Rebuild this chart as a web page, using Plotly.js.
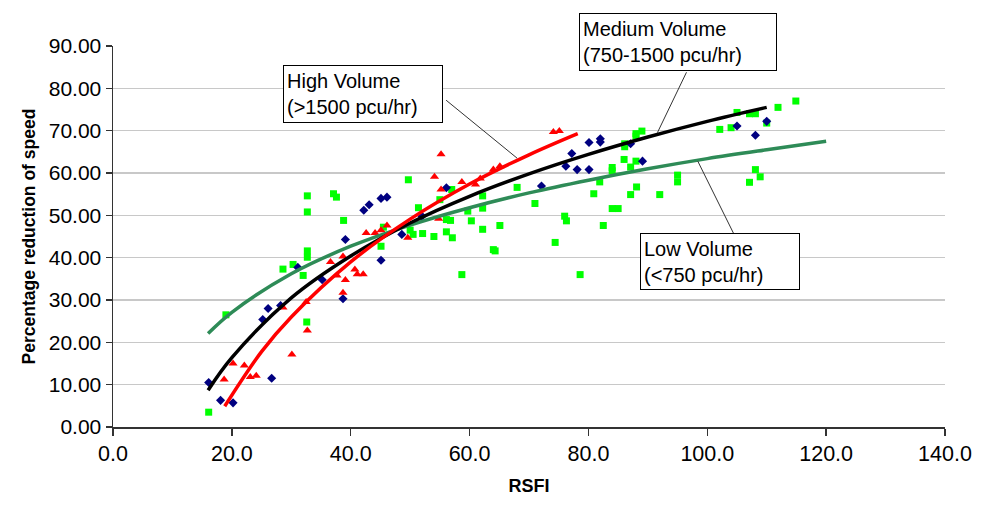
<!DOCTYPE html>
<html>
<head>
<meta charset="utf-8">
<script src="https://cdn.plot.ly/plotly-3.0.1.min.js"></script>
<style>html,body{margin:0;padding:0;background:#fff;}#chart{width:986px;height:505px;}</style>
</head>
<body>
<div id="chart"></div>
<script>
// Low volume (<750 pcu/hr) observations
const lowX = [16.1,19.0,32.6,32.7,32.7,32.7,32.7,30.3,28.6,32.0,
  37.1,37.6,38.8,49.7,45.5,45.1,51.4,50.0,50.5,52.1,54.0,56.1,57.1,56.1,56.8,55.0,57.0,59.7,60.3,62.2,62.2,62.2,65.1,64.0,64.3,58.7,68.0,71.0,
  74.4,76.0,76.3,78.6,80.9,81.9,82.5,84.0,85.0,84.0,84.0,86.0,87.1,88.0,88.1,87.1,92.0,95.0,95.0,
  88.0,89.0,88.0,86.1,86.1,102.1,104.0,105.0,107.1,108.1,110.0,111.9,114.9,108.1,108.9,107.1];
const lowY = [3.5,26.5,24.8,54.6,50.8,41.6,40.1,38.4,37.3,35.8,
  55.1,54.3,48.8,58.4,47.2,42.7,51.8,46.5,45.5,45.7,45.0,46.1,44.7,49.0,48.8,53.7,56.1,51.0,48.7,54.6,51.7,46.7,47.6,41.9,41.6,36.0,56.6,52.8,
  43.6,49.8,48.7,36.0,55.1,57.9,47.6,51.6,51.6,61.3,60.5,63.2,61.4,62.8,56.7,54.9,54.9,59.5,57.9,
  69.3,69.9,68.7,66.9,66.2,70.3,70.7,74.3,74.0,74.0,71.8,75.5,77.0,60.8,59.1,57.8];

// Medium volume (750-1500 pcu/hr) observations
const medX = [16.1,18.1,20.2,25.2,26.1,28.2,26.7,31.1,35.2,
  39.1,38.7,45.1,42.2,43.1,45.1,46.1,48.6,56.1,52.0,
  72.1,76.2,77.2,78.1,80.1,80.1,82.0,82.0,87.1,89.1,
  105.0,108.1,110.0];
const medY = [10.5,6.3,5.7,25.4,28.0,28.7,11.5,37.7,34.8,
  44.3,30.3,39.4,51.2,52.5,54.0,54.3,45.5,56.5,49.8,
  56.9,61.6,64.6,60.8,60.8,67.2,68.1,67.3,66.9,62.8,
  71.1,68.9,72.2];

// High volume (>1500 pcu/hr) observations
const highX = [32.5,32.7,30.1,20.2,18.7,22.1,23.1,24.1,28.6,
  55.2,54.1,55.2,58.7,61.0,61.8,64.0,65.1,
  42.6,44.1,45.1,46.1,49.6,36.6,38.7,40.7,41.1,42.1,37.7,39.1,38.7,54.8,74.1,75.1];
const highY = [29.5,22.8,17.1,15.0,11.2,14.5,11.8,12.1,28.2,
  64.4,59.1,56.1,57.9,57.3,58.7,60.8,61.6,
  45.8,45.8,46.5,47.6,44.7,39.0,40.3,37.2,36.1,36.1,35.8,34.7,31.7,49.2,69.7,69.9];

// Fitted trend curves
const highFitX = [18.8,25,30,40,50,60,70,78.2];
const highFitY = [4.9,17.8,26.0,39.0,49.1,57.4,64.3,69.3];
const medFitX = [16,20,30,40,50,60,70,80,90,100,110];
const medFitY = [8.7,16.4,30.5,40.4,48.2,54.5,59.8,64.4,68.5,72.2,75.5];
const lowFitX = [16,20,30,40,50,60,70,80,90,100,110,120];
const lowFitY = [22.1,27.1,36.2,42.7,47.7,51.8,55.3,58.3,61.0,63.4,65.5,67.5];

// Labels
const labelHigh = "High Volume<br>(>1500 pcu/hr)";
const labelMed = "Medium Volume<br>(750-1500 pcu/hr)";
const labelLow = "Low Volume<br>(<750 pcu/hr)";
const xTitle = "RSFI";
const yTitle = "Percentage reduction of speed";

const FONT = "Liberation Sans, Arial, sans-serif";

const traces = [
  {x: lowX, y: lowY, type: 'scatter', mode: 'markers', name: 'Low',
   marker: {symbol: 'square', size: 7, color: '#00FF00'}, cliponaxis: false},
  {x: medX, y: medY, type: 'scatter', mode: 'markers', name: 'Medium',
   marker: {symbol: 'diamond', size: 7, color: '#000080'}, cliponaxis: false},
  {x: highX, y: highY, type: 'scatter', mode: 'markers', name: 'High',
   marker: {symbol: 'triangle-up', size: 8, color: '#FF0000'}, cliponaxis: false},
  {x: lowFitX, y: lowFitY, type: 'scatter', mode: 'lines', name: 'Low fit',
   line: {color: '#2E8B57', width: 3.5, shape: 'spline'}},
  {x: medFitX, y: medFitY, type: 'scatter', mode: 'lines', name: 'Medium fit',
   line: {color: '#000000', width: 3.5, shape: 'spline'}},
  {x: highFitX, y: highFitY, type: 'scatter', mode: 'lines', name: 'High fit',
   line: {color: '#FF0000', width: 3.5, shape: 'spline'}}
];

function box(text, x, y, w, h) {
  return {text: text, xref: 'paper', yref: 'paper', x: x, y: y,
    xanchor: 'left', yanchor: 'top', showarrow: false, align: 'left', valign: 'middle',
    width: w, height: h, bgcolor: '#FFFFFF', bordercolor: '#000000', borderwidth: 1, borderpad: 3,
    font: {family: FONT, size: 20, color: '#000000'}};
}

const layout = {
  width: 986, height: 505,
  margin: {l: 113, r: 41, t: 46, b: 78},
  paper_bgcolor: '#FFFFFF', plot_bgcolor: '#FFFFFF',
  showlegend: false,
  font: {family: FONT, color: '#000000'},
  xaxis: {
    range: [0, 140], dtick: 20, tick0: 0, tickformat: '.1f',
    showgrid: false, zeroline: false,
    showline: true, linecolor: '#333333', linewidth: 1.5,
    ticks: 'outside', ticklen: 7, tickcolor: '#333333', tickwidth: 1.5,
    tickfont: {family: FONT, size: 21.5, color: '#000'},
    title: {text: xTitle, standoff: 14, font: {family: FONT, size: 18, weight: 'bold', color: '#000'}}
  },
  yaxis: {
    range: [0, 90], dtick: 10, tick0: 0, tickformat: '.2f',
    showgrid: true, gridcolor: '#C8C8C8', gridwidth: 1.5, zeroline: false,
    showline: true, linecolor: '#333333', linewidth: 1.5,
    ticks: 'outside', ticklen: 6, tickcolor: '#333333', tickwidth: 1.5,
    tickfont: {family: FONT, size: 21, color: '#000'},
    title: {text: yTitle, standoff: 8, font: {family: FONT, size: 17.5, weight: 'bold', color: '#000'}}
  },
  shapes: [
    {type: 'line', xref: 'x', yref: 'y', x0: 56.05, y0: 77.2, x1: 68.0, y1: 63.5, line: {color: '#333333', width: 1}},
    {type: 'line', xref: 'x', yref: 'y', x0: 96.5, y0: 83.8, x1: 91.6, y1: 69.5, line: {color: '#333333', width: 1}},
    {type: 'line', xref: 'x', yref: 'y', x0: 98.4, y0: 62.8, x1: 104.4, y1: 45.8, line: {color: '#333333', width: 1}}
  ],
  annotations: [
    box(labelHigh, 0.204, 0.950, 152, 50),
    box(labelMed, 0.560, 1.086, 190, 50),
    box(labelLow, 0.634, 0.509, 152, 49)
  ]
};

Plotly.newPlot('chart', traces, layout, {staticPlot: true, displayModeBar: false});
</script>
</body>
</html>
